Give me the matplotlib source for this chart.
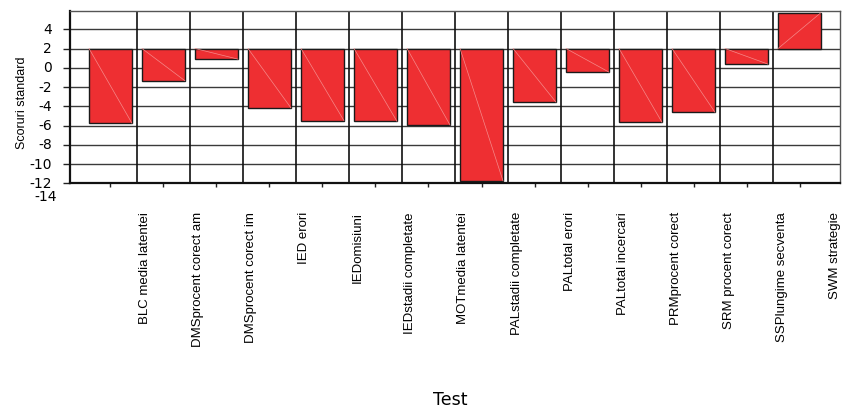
import matplotlib
matplotlib.use('Agg')
import matplotlib.pyplot as plt
from matplotlib import font_manager
from matplotlib.transforms import ScaledTranslation

# data (bars hang from a baseline at 2)
tests = ['BLC media latentei', 'DMSprocent corect am', 'DMSprocent corect im',
         'IED erori', 'IEDomisiuni', 'IEDstadii completate', 'MOTmedia latentei',
         'PALstadii completate', 'PALtotal erori', 'PALtotal incercari',
         'PRMprocent corect', 'SRM procent corect', 'SSPlungime secventa',
         'SWM strategie']
scores = [-5.76, -1.35, 0.9, -4.17, -5.49, -5.56, -5.94, -11.74, -3.57,
          -0.45, -5.66, -4.62, 0.38, 5.73]
baseline = 2
yticks = [-12, -10, -8, -6, -4, -2, 0, 2, 4]

# narrow face for the rotated text if there is one, wide face for the rest
names = {f.name for f in font_manager.fontManager.ttflist}
narrow = 'Liberation Sans Narrow' if 'Liberation Sans Narrow' in names else 'Liberation Sans'
wide = 'DejaVu Sans'

fig = plt.figure(figsize=(8.49, 4.10), dpi=100)
ax = fig.add_axes([70 / 849, 1 - 184.3 / 410, 770 / 849, 172.6 / 410])

x = list(range(len(tests)))
heights = [v - baseline for v in scores]
bars = ax.bar(x, heights, bottom=baseline, width=0.81, color='#ee2f32',
              edgecolor='#1a1a1a', linewidth=1.0, zorder=3)

# faint diagonal inside each bar, from the baseline corner to the value corner
for b in bars:
    x0, y0 = b.get_x(), b.get_y()
    ax.plot([x0, x0 + b.get_width()], [y0, y0 + b.get_height()],
            color='#f58a8a', lw=0.5, zorder=4)

ax.set_xlim(-0.764, len(tests) - 1 + 0.764)
ax.set_ylim(-12, 5.93)

ax.set_yticks(yticks)
ax.set_yticklabels([str(t) for t in yticks], family=wide, fontsize=10)
ax.tick_params(axis='y', length=5, width=1, pad=8, color='#222222')
up = ScaledTranslation(0, 2 / 100, fig.dpi_scale_trans)
for lab in ax.get_yticklabels():
    lab.set_transform(lab.get_transform() + up)

ax.set_xticks(x)
ax.set_xticklabels(tests, rotation=90, family=narrow, fontsize=9.5, va='top')
ax.tick_params(axis='x', length=3, width=1, pad=17, color='#222222')
shift = ScaledTranslation(35 / 100, 0, fig.dpi_scale_trans)
for lab in ax.get_xticklabels():
    lab.set_transform(lab.get_transform() + shift)

# stray bottom label below the axis, as in the reference
ax.annotate('-14', xy=(0, -12), xycoords=('axes fraction', 'data'),
            xytext=(-13, -13), textcoords='offset pixels',
            ha='right', va='center', family=wide, fontsize=10)

# grid: horizontal at ticks, vertical between categories
for t in yticks:
    ax.axhline(t, color='#3a3a3a', lw=1.0, zorder=1)
for i in range(len(tests) - 1):
    ax.axvline(i + 0.5, color='#111111', lw=1.2, zorder=1)

for side in ['left', 'bottom']:
    ax.spines[side].set_linewidth(1.6)
    ax.spines[side].set_color('#111111')
for side in ['top', 'right']:
    ax.spines[side].set_linewidth(1.0)
    ax.spines[side].set_color('#555555')

fig.text(22 / 849, 1 - 103 / 410, 'Scoruri standard', rotation=90,
         ha='center', va='center', family=narrow, fontsize=9)
fig.text(450 / 849, 1 - 400 / 410, 'Test', ha='center', va='center',
         family=wide, fontsize=12.5)

fig.savefig('out.png', dpi=100)
